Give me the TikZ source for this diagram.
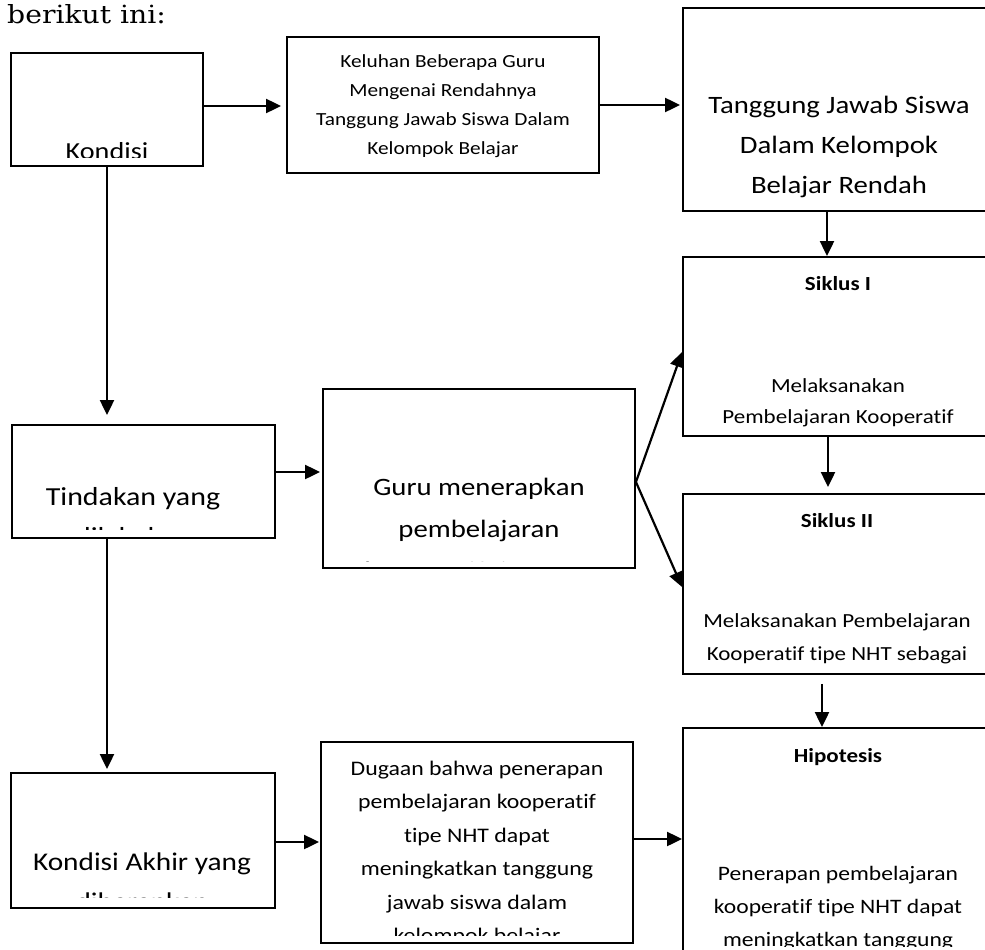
\documentclass[tikz,border=0pt]{standalone}
\usepackage{fontspec}
\usepackage{graphicx}
\newfontfamily\calfont[Ligatures=NoCommon]{Carlito}
\newfontfamily\titlefont{DejaVu Serif}
\usetikzlibrary{arrows.meta,fit}

\newcommand\hs{1.15}
% #1 name prefix, #2 x, #3 first baseline, #4 line spacing, #5 font, #6 lines
\newcommand\txtlines[6]{%
  \foreach \ln [count=\i] in {#6} {%
    \node[anchor=base, inner sep=0pt, font=#5] (#1\i) at ({#2},{#3+(\i-1)*#4}) {\scalebox{\hs}[1]{\ln}};}}

\tikzset{
  box/.style={draw, line width=1.9pt, inner sep=0pt, rectangle},
  conn/.style={line width=2.2pt, -{Triangle[length=15pt,width=14pt]}},
}

\begin{document}
\begin{tikzpicture}[x=1pt,y=-1pt]
\useasboundingbox (0,0) rectangle (985,950);

% title
\node[anchor=base west, inner sep=0pt, font=\titlefont\fontsize{25}{30}\selectfont] (title) at (7,24) {\scalebox{1.13}[1]{berikut ini:}};

% boxes
\node[box, fit={(11,53) (203,166)}] (kondisi) {};
\node[box, fit={(287,37) (599,173)}] (keluhan) {};
\node[box, fit={(683,8) (995,211)}] (tanggung) {};
\node[box, fit={(12,425) (275,538)}] (tindakan) {};
\node[box, fit={(323,389) (635,568)}] (guru) {};
\node[box, fit={(683,257) (995,436)}] (siklus1) {};
\node[box, fit={(683,494) (995,674)}] (siklus2) {};
\node[box, fit={(11,773) (275,908)}] (akhir) {};
\node[box, fit={(321,742) (633,943)}] (dugaan) {};
\node[box, fit={(683,728) (995,965)}] (hipotesis) {};

% texts (clipped like overflowing text boxes)
\begin{scope}
  \clip (11,53) rectangle (203,157);
  \txtlines{kt}{107}{159}{30}{\calfont\fontsize{24.5}{29}\selectfont}{Kondisi}
\end{scope}

\txtlines{kl}{443}{67}{29.3}{\calfont\fontsize{18.5}{22}\selectfont}{Keluhan Beberapa Guru,Mengenai Rendahnya,Tanggung Jawab Siswa Dalam,Kelompok Belajar}

\begin{scope}
  \clip (683,8) rectangle (995,201);
  \txtlines{tg}{839}{113}{40}{\calfont\fontsize{25}{30}\selectfont}{Tanggung Jawab Siswa,Dalam Kelompok,Belajar Rendah}
\end{scope}

\begin{scope}
  \clip (12,425) rectangle (275,529);
  \txtlines{td}{133}{505}{40}{\calfont\fontsize{26}{30}\selectfont}{Tindakan yang,dilakukan}
\end{scope}

\begin{scope}
  \clip (323,389) rectangle (635,561);
  \txtlines{gr}{479}{495}{42}{\calfont\fontsize{25}{30}\selectfont}{Guru menerapkan,pembelajaran,kooperatif tipe NHT}
\end{scope}

\begin{scope}
  \clip (683,257) rectangle (995,428);
  \txtlines{sa}{838}{290}{30}{\calfont\bfseries\fontsize{20}{24}\selectfont}{Siklus I}
  \txtlines{sb}{838}{392}{31}{\calfont\fontsize{20}{24}\selectfont}{Melaksanakan,Pembelajaran Kooperatif}
\end{scope}

\begin{scope}
  \clip (683,494) rectangle (995,668);
  \txtlines{sc}{837}{527}{30}{\calfont\bfseries\fontsize{20}{24}\selectfont}{Siklus II}
  \txtlines{sd}{837}{627}{33}{\calfont\fontsize{20}{24}\selectfont}{Melaksanakan Pembelajaran,Kooperatif tipe NHT sebagai}
\end{scope}

\begin{scope}
  \clip (11,773) rectangle (275,897);
  \txtlines{ak}{142}{870}{40}{\calfont\fontsize{25.5}{30}\selectfont}{Kondisi Akhir yang,diharapkan}
\end{scope}

\begin{scope}
  \clip (321,742) rectangle (633,935);
  \txtlines{dg}{477}{775}{33.5}{\calfont\fontsize{20.7}{25}\selectfont}{Dugaan bahwa penerapan,pembelajaran kooperatif,tipe NHT dapat,meningkatkan tanggung,jawab siswa dalam,kelompok belajar}
\end{scope}

\begin{scope}
  \clip (683,728) rectangle (995,946);
  \txtlines{ha}{838}{762}{30}{\calfont\bfseries\fontsize{20}{24}\selectfont}{Hipotesis}
  \txtlines{hb}{838}{880}{33}{\calfont\fontsize{20.5}{24}\selectfont}{Penerapan pembelajaran,kooperatif tipe NHT dapat,meningkatkan tanggung}
\end{scope}

% connectors
\draw[conn, shorten >=5pt] ([yshift=3.5pt]kondisi.east) -- ([yshift=3.5pt]kondisi.east -| keluhan.west);
\draw[conn, shorten >=2pt] (keluhan.east) -- (keluhan.east -| tanggung.west);
\draw[conn] ([xshift=-12pt]tanggung.south) -- ([xshift=-12pt]siklus1.north);
\draw[conn, shorten >=6pt] ([xshift=-11pt]siklus1.south) -- ([xshift=-11pt]siklus2.north);
\draw[conn] ([xshift=-17pt,yshift=-9pt]siklus2.south) -- ([xshift=-17pt]hipotesis.north);

\draw[conn, shorten >=9pt] (kondisi.south) -- (kondisi.south |- tindakan.north);
\draw[conn, shorten >=2pt] ([yshift=9.5pt]tindakan.east) -- ([yshift=9.5pt]tindakan.east -| guru.west);
\draw[conn] ([yshift=-3.5pt]guru.east) -- ([yshift=-5.5pt]siklus1.west);
\draw[conn] ([yshift=-3.5pt]guru.east) -- ([yshift=-3pt]siklus2.west);

\draw[conn, shorten >=3pt] (kondisi.south |- tindakan.south) -- (kondisi.south |- akhir.north);
\draw[conn, shorten >=1pt] ([yshift=-1.5pt]akhir.east) -- ([yshift=-1.5pt]akhir.east -| dugaan.west);
\draw[conn] ([yshift=3.5pt]dugaan.east) -- ([yshift=3.5pt]dugaan.east -| hipotesis.west);
\end{tikzpicture}
\end{document}
